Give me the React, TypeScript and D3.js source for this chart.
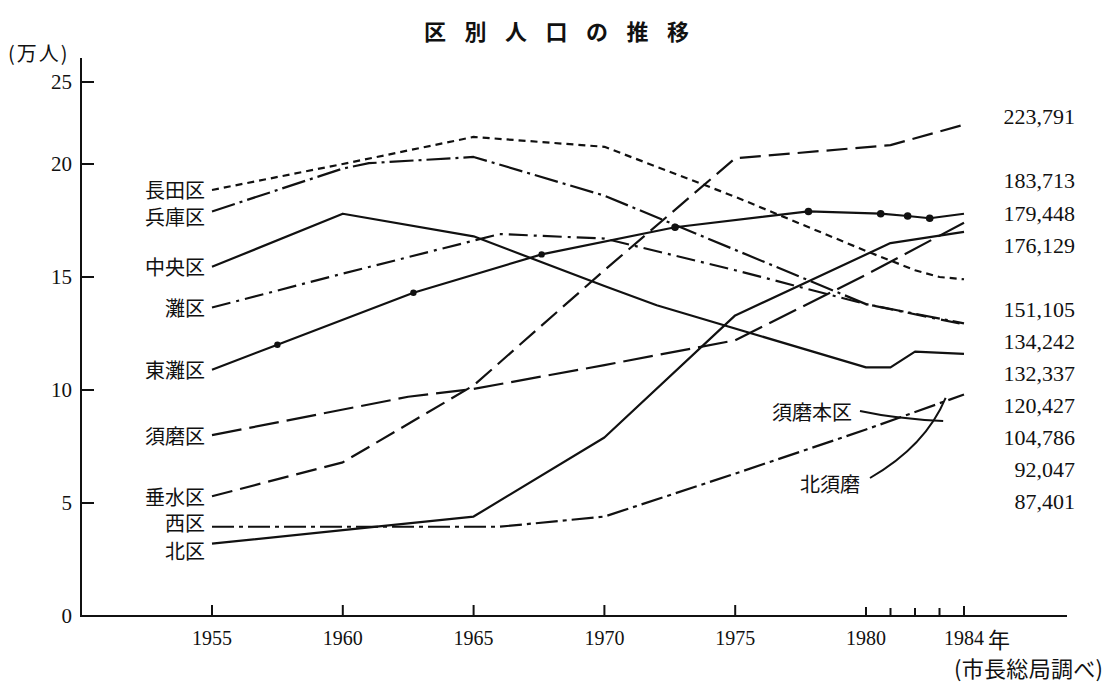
import React from 'react';
import * as d3 from 'd3';

// ---------- data (万人) ----------
const nagataYears = [1955, 1960, 1965, 1970, 1975, 1980, 1982, 1983, 1984];
const nagataValues = [18.85, 20.0, 21.65, 21.05, 18.55, 16.15, 15.3, 15.0, 14.9];

const hyogoYears = [1955, 1960, 1961, 1965, 1970, 1975, 1980, 1984];
const hyogoValues = [17.9, 19.8, 20.05, 20.43, 18.6, 16.2, 13.8, 12.95];

const chuoYears = [1955, 1960, 1965, 1970, 1972, 1980, 1981, 1982, 1984];
const chuoValues = [15.45, 17.8, 16.8, 14.6, 13.75, 11.0, 11.0, 11.7, 11.6];

const nadaYears = [1955, 1960, 1966, 1970, 1975, 1980, 1984];
const nadaValues = [13.65, 15.15, 16.9, 16.7, 15.3, 13.8, 12.9];

const higashinadaYears = [1955, 1957.5, 1962.7, 1967.6, 1972.7, 1977.8, 1980.6, 1981.7, 1982.6, 1984];
const higashinadaValues = [10.9, 12.0, 14.3, 16.0, 17.2, 17.9, 17.8, 17.7, 17.6, 17.8];

const sumaYears = [1955, 1962.5, 1965, 1970, 1975, 1980, 1984];
const sumaValues = [8.0, 9.7, 10.05, 11.1, 12.2, 15.1, 17.4];

const tarumiYears = [1955, 1960, 1965, 1970, 1975, 1981, 1984];
const tarumiValues = [5.3, 6.8, 10.2, 15.3, 20.35, 21.15, 22.4];

const nishiYears = [1955, 1960, 1966, 1970, 1975, 1980, 1984];
const nishiValues = [3.95, 3.95, 3.95, 4.4, 6.3, 8.25, 9.8];

const kitaYears = [1955, 1960, 1965, 1970, 1975, 1981, 1984];
const kitaValues = [3.2, 3.8, 4.4, 7.9, 13.3, 16.5, 17.0];

const districtNames = ['長田区', '兵庫区', '中央区', '灘区', '東灘区', '須磨区', '垂水区', '西区', '北区'];

const yTicks = [0, 5, 10, 15, 20, 25];
const xMajorTicks = [1955, 1960, 1965, 1970, 1975, 1980];
const xMinorTicks = [1981, 1982, 1983, 1984];
const xTickLabels = ['1955', '1960', '1965', '1970', '1975', '1980', '1984'];
const xLabelYears = [1955, 1960, 1965, 1970, 1975, 1980, 1984];

const populations1984 = ['223,791', '183,713', '179,448', '176,129', '151,105', '134,242', '132,337', '120,427', '104,786', '92,047', '87,401'];

// annotation targets (year, value)
const sumaHonkuTarget: [number, number] = [1983.15, 8.63];
const kitaSumaTarget: [number, number] = [1983.25, 9.65];

// ---------- layout / styles ----------
const popSlots = [0, 2, 3, 4, 6, 7, 8, 9, 10, 11, 12];
const labelNudge: Record<string, number> = { '兵庫区': 5, '西区': -4, '北区': 7 };
const dashes: Record<string, string | undefined> = {
  '長田区': '7,5',
  '兵庫区': '24,5,3,5',
  '中央区': undefined,
  '灘区': '19,6,3,6',
  '東灘区': undefined,
  '須磨区': '30,8',
  '垂水区': '21,8',
  '西区': '22,5,4,5',
  '北区': undefined,
};

const CJK = "'Noto Sans CJK JP', 'Noto Sans CJK SC', sans-serif";
const NUM = "'Liberation Serif', 'DejaVu Serif', serif";
const INK = '#111';

export default function App() {
  const x = d3.scaleLinear().domain([1955, 1980, 1984]).range([212, 866, 964]);
  const y = d3.scaleLinear().domain([0, 20, 25]).range([616, 164, 82]);
  const line = d3.line<[number, number]>().x(d => x(d[0])).y(d => y(d[1]));

  const seriesYears = [nagataYears, hyogoYears, chuoYears, nadaYears, higashinadaYears, sumaYears, tarumiYears, nishiYears, kitaYears];
  const seriesValues = [nagataValues, hyogoValues, chuoValues, nadaValues, higashinadaValues, sumaValues, tarumiValues, nishiValues, kitaValues];
  const series = districtNames.map((name, i) => ({
    name,
    pts: seriesYears[i].map((yr, j) => [yr, seriesValues[i][j]] as [number, number]),
  }));

  const x0 = 81;
  const y0 = y(0);
  const axisEnd = 1067;
  const popY = d3.scaleLinear().domain([0, 12]).range([117, 502]);

  const eastPts = series[4].pts;
  const dots = eastPts.slice(1, eastPts.length - 1);

  // annotations
  const shX = x(sumaHonkuTarget[0]);
  const shY = y(sumaHonkuTarget[1]);
  const shLabelRight = 852;
  const shLabelY = 411;
  const shStart: [number, number] = [shLabelRight + 8, shLabelY];
  const shPath = `M${shStart[0]},${shStart[1]} Q${(shStart[0] + shX) / 2 - 5},${shY - 2} ${shX},${shY}`;

  const ksX = x(kitaSumaTarget[0]);
  const ksY = y(kitaSumaTarget[1]);
  const ksLabelRight = 860;
  const ksLabelY = 483;
  const ksStart: [number, number] = [ksLabelRight + 10, ksLabelY - 5];
  const ksPath = `M${ksStart[0]},${ksStart[1]} Q${ksX - 20},${ksStart[1] - 32} ${ksX},${ksY}`;

  const titleChars = Array.from('区別人口の推移');

  return (
    <svg width={1110} height={682} style={{ position: 'absolute', left: 0, top: 0, background: '#fff' }}>
      <rect x={0} y={0} width={1110} height={682} fill="#fff" />
      {/* title */}
      {titleChars.map((c, i) => (
        <text key={i} x={556.5 + (i - 3) * 40.5} y={30} textAnchor="middle" dominantBaseline="central"
          fontFamily={CJK} fontSize={22} fontWeight={700} fill={INK}>{c}</text>
      ))}
      <text x={8} y={52} dominantBaseline="central" fontFamily={CJK} fontSize={20} letterSpacing={2} fill={INK}>(万人)</text>

      {/* axes */}
      <line x1={x0} x2={x0} y1={58} y2={y0 + 1} stroke={INK} strokeWidth={2} />
      <line x1={x0 - 1} x2={axisEnd} y1={y0} y2={y0} stroke={INK} strokeWidth={2} />
      {yTicks.map(t => (
        <g key={t}>
          {t > 0 && <line x1={x0} x2={x0 + 13} y1={y(t)} y2={y(t)} stroke={INK} strokeWidth={2} />}
          <text x={72} y={y(t)} dy="0.33em" textAnchor="end" fontFamily={NUM} fontSize={21} fill={INK}>{t}</text>
        </g>
      ))}
      {xMajorTicks.map(t => (
        <line key={t} x1={x(t)} x2={x(t)} y1={y0} y2={y0 - (t === 1980 ? 9 : 11)} stroke={INK} strokeWidth={2} />
      ))}
      {xMinorTicks.map(t => (
        <line key={t} x1={x(t)} x2={x(t)} y1={y0} y2={y0 - (t === 1984 ? 10 : 8)} stroke={INK} strokeWidth={2} />
      ))}
      {xLabelYears.map((t, i) => (
        <text key={t} x={x(t)} y={638} dy="0.33em" textAnchor="middle" fontFamily={NUM} fontSize={20} fill={INK}>{xTickLabels[i]}</text>
      ))}
      <text x={988} y={638} dominantBaseline="central" fontFamily={CJK} fontSize={22} fill={INK}>年</text>
      <text x={954} y={667} dominantBaseline="central" fontFamily={CJK} fontSize={22} letterSpacing={0.3} fill={INK}>(市長総局調べ)</text>

      {/* lines */}
      {series.map(s => (
        <path key={s.name} d={line(s.pts) || ''} fill="none" stroke={INK} strokeWidth={2.2}
          strokeDasharray={dashes[s.name]} strokeLinejoin="round" />
      ))}
      {dots.map((d, i) => (
        <circle key={i} cx={x(d[0])} cy={y(d[1])} r={i < 3 ? 3.2 : 3.8} fill={INK} />
      ))}

      {/* left labels */}
      {series.map(s => (
        <text key={s.name} x={205} y={y(s.pts[0][1]) + (labelNudge[s.name] || 0)} textAnchor="end"
          dominantBaseline="central" fontFamily={CJK} fontSize={20} fill={INK}>{s.name}</text>
      ))}

      {/* annotations */}
      <text x={shLabelRight} y={shLabelY} textAnchor="end" dominantBaseline="central" fontFamily={CJK} fontSize={20} fill={INK}>須磨本区</text>
      <path d={shPath} fill="none" stroke={INK} strokeWidth={2} />
      <text x={ksLabelRight} y={ksLabelY} textAnchor="end" dominantBaseline="central" fontFamily={CJK} fontSize={20} fill={INK}>北須磨</text>
      <path d={ksPath} fill="none" stroke={INK} strokeWidth={2} />

      {/* 1984 populations */}
      {populations1984.map((p, i) => (
        <text key={p} x={1075} y={popY(popSlots[i])} dy="0.33em" textAnchor="end" fontFamily={NUM} fontSize={22} fill={INK}>{p}</text>
      ))}
    </svg>
  );
}
